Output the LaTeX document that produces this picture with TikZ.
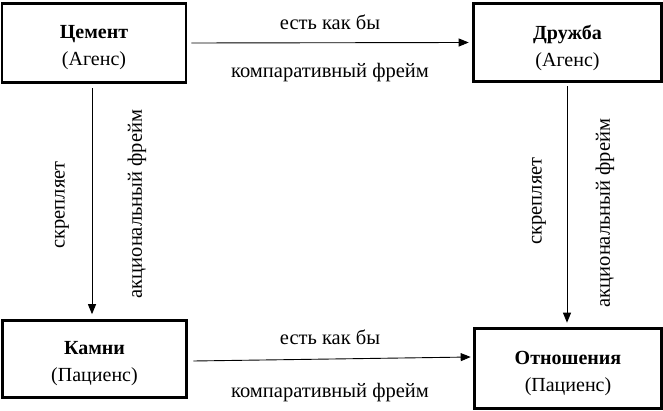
\documentclass[tikz,border=0pt]{standalone}
\usepackage{fontspec}
\setmainfont{Liberation Serif}
\usetikzlibrary{arrows.meta}
\begin{document}
\begin{tikzpicture}[x=1pt,y=-1pt,
  box/.style={draw,line width=2.6pt,inner sep=0pt},
  boxtext/.style={inner sep=0pt,align=center,font=\fontsize{20}{27}\selectfont},
  conn/.style={line width=0.9pt,-{Triangle[length=10pt,width=8pt]}},
  lbl/.style={font=\fontsize{20.5}{24}\selectfont,inner sep=0pt}]
\useasboundingbox (0,0) rectangle (663,411);
\node[box,minimum width=184pt,minimum height=79pt] (cem) at (94,43) {};
\node[box,minimum width=188pt,minimum height=78pt] (dru) at (567.5,42.5) {};
\node[box,minimum width=184pt,minimum height=77pt] (kam) at (94.5,359) {};
\node[box,minimum width=187pt,minimum height=80pt] (otn) at (568,368.5) {};
\node[boxtext] (cemt) at ([yshift=-5pt]cem.center) {\textbf{Цемент}\\(Агенс)};
\node[boxtext] (drut) at ([yshift=-5pt]dru.center) {\textbf{Дружба}\\(Агенс)};
\node[boxtext] (kamt) at ([yshift=-5pt]kam.center) {\textbf{Камни}\\(Пациенс)};
\node[boxtext] (otnt) at ([yshift=-5pt]otn.center) {\textbf{Отношения}\\(Пациенс)};
\draw[conn] ([xshift=4pt]cem.east) -- ([xshift=-3.5pt]dru.west);
\node[lbl] (t1) at (330,22) {есть как бы};
\node[lbl] (t2) at (330,73) {компаративный фрейм};
\draw[conn] ([xshift=5.5pt,yshift=-2pt]kam.east) -- ([xshift=-2.5pt,yshift=11.5pt]otn.west);
\node[lbl] (t3) at (330,337) {есть как бы};
\node[lbl] (t4) at (330,393) {компаративный фрейм};
\draw[conn] ([xshift=-2pt,yshift=-4.5pt]cem.south) -- ([xshift=-2.5pt,yshift=5pt]kam.north);
\node[lbl,rotate=90] (t5) at (62,205) {скрепляет};
\node[lbl,rotate=90] (t6) at (137,204) {акциональный фрейм};
\draw[conn] ([xshift=-0.5pt,yshift=-3.5pt]dru.south) -- ([xshift=-1pt,yshift=4.5pt]otn.north);
\node[lbl,rotate=90] (t7) at (539,201) {скрепляет};
\node[lbl,rotate=90] (t8) at (605,213) {акциональный фрейм};
\end{tikzpicture}
\end{document}
